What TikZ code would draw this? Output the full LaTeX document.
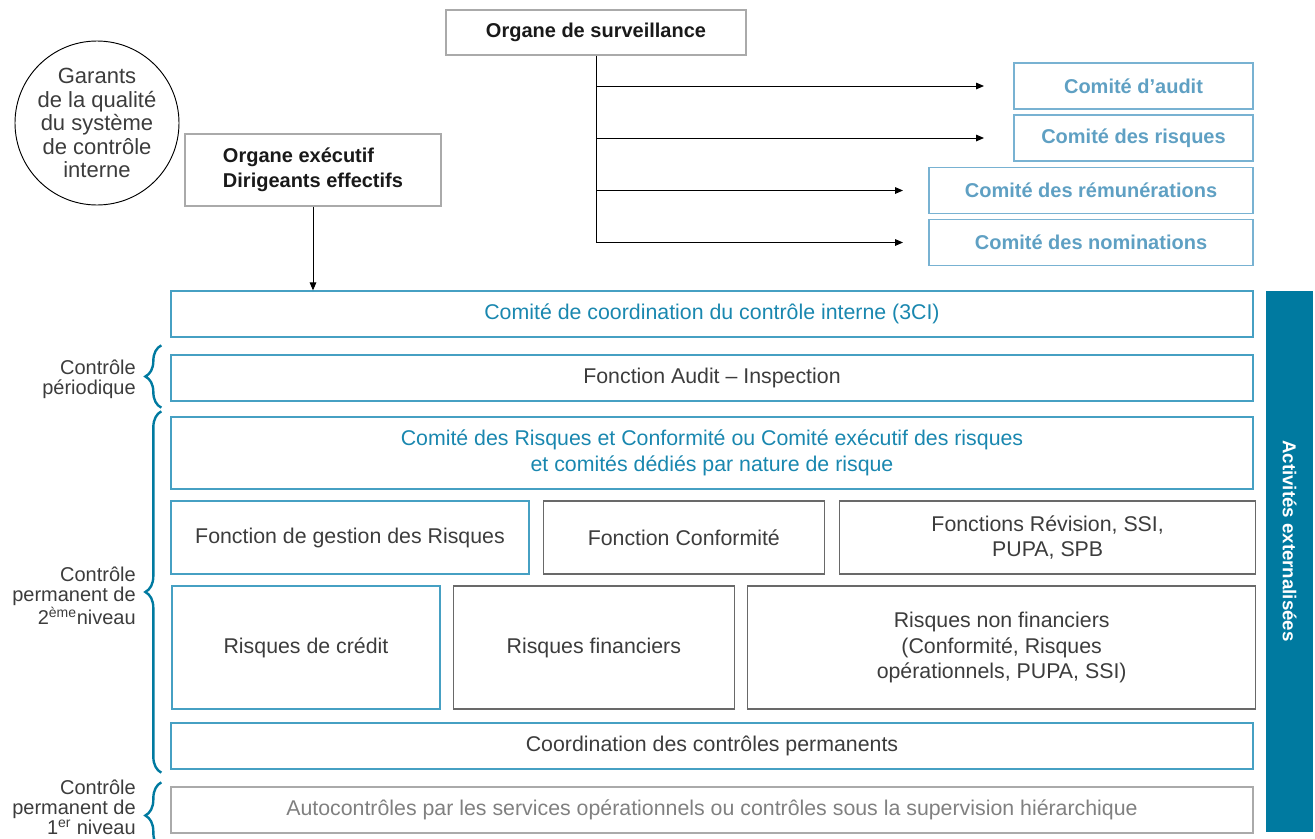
\documentclass[tikz,border=0pt]{standalone}
\usepackage{fontspec}
\setmainfont{Liberation Sans}
\usetikzlibrary{arrows.meta, positioning, decorations.pathreplacing}
\definecolor{petrol}{RGB}{0,122,160}
\definecolor{boxblue}{RGB}{70,160,195}
\definecolor{comblue}{RGB}{95,160,195}
\definecolor{comline}{RGB}{120,178,210}
\definecolor{txtgrey}{RGB}{60,60,60}
\definecolor{lineg}{RGB}{105,105,105}
\definecolor{lightg}{RGB}{170,170,170}
\definecolor{textblue}{RGB}{25,135,175}

\begin{document}
\begin{tikzpicture}[x=0.75pt, y=-0.75pt,
  every node/.style={font=\fontsize{16}{19}\selectfont, text=txtgrey, align=center, inner sep=0pt},
  head/.style   ={rectangle, draw=lightg, line width=1pt,
                  font=\fontsize{15}{19}\selectfont\bfseries, text=black!90},
  comite/.style ={rectangle, draw=comline, line width=1pt, minimum height=34.5pt,
                  font=\fontsize{15}{19}\selectfont\bfseries, text=comblue},
  layer/.style  ={rectangle, draw=boxblue, line width=1pt, minimum width=811.5pt, minimum height=34.5pt},
  greybox/.style={rectangle, draw=lineg, line width=1pt},
  bluebox/.style={rectangle, draw=boxblue, line width=1pt},
  link/.style   ={-{Triangle[length=6pt,width=5pt]}, line width=0.7pt, black},
  niveau/.style ={decorate, decoration={brace, amplitude=12pt}, line width=1.8pt, petrol},
  levellabel/.style={align=right, anchor=east, font=\fontsize{15}{15}\selectfont},
]
\clip (0,0) rectangle (1315,839);

% Governance (top)
\node[head, minimum width=225pt, minimum height=33.75pt] (surv) at (596,32.5) {Organe de surveillance};
\node[head, minimum width=192pt, minimum height=54pt, align=left] (exec) at (313,170)
  {Organe exécutif\\Dirigeants effectifs};
\node[circle, draw, line width=0.7pt, minimum size=123pt, font=\fontsize{16.5}{17.6}\selectfont]
  (garants) at (97,123) {Garants\\de la qualité\\du système\\de contrôle\\interne};

% Committees
\node[comite, minimum width=179.25pt] (caudit) at (1133.5,86)  {Comité d’audit};
\node[comite, minimum width=179.25pt] (crisk)  at (1133.5,138) {Comité des risques};
\node[comite, minimum width=243pt]    (cremu)  at (1091,190.5) {Comité des rémunérations};
\node[comite, minimum width=243pt]    (cnomi)  at (1091,242.5) {Comité des nominations};

\draw[link, shorten >=19pt] (surv.south) |- (cnomi.west);
\draw[link, shorten >=19pt] (surv.south |- cremu.west) -- (cremu.west);
\draw[link, shorten >=22pt] (surv.south |- crisk.west) -- (crisk.west);
\draw[link, shorten >=22pt] (surv.south |- caudit.west) -- (caudit.west);

% Layers of internal control
\node[layer, text=textblue] (cci) at (712,314) {Comité de coordination du contrôle interne (3CI)};
\node[layer] (inspect) at (712,378) {Fonction Audit – Inspection};
\node[layer, minimum height=54pt, text=textblue, font=\fontsize{16}{19.5}\selectfont] (crc) at (712,453)
  {Comité des Risques et Conformité ou Comité exécutif des risques\\et comités dédiés par nature de risque};

\draw[link] (exec.south) -- (exec.south |- cci.north);

% Functions
\node[bluebox, minimum width=268.5pt, minimum height=54.75pt] (gestion) at (350,537.5) {Fonction de gestion des Risques};
\node[greybox, minimum width=210.75pt, minimum height=54.75pt, right=9.75pt of gestion] (conform) {Fonction Conformité};
\node[greybox, minimum width=312pt, minimum height=54.75pt, right=10.5pt of conform] (revis)
  {Fonctions Révision, SSI,\\PUPA, SPB};

% Risk families
\node[bluebox, minimum width=201pt, minimum height=92.25pt] (credit) at (306,647.5) {Risques de crédit};
\node[greybox, minimum width=210.75pt, minimum height=92.25pt, right=9pt of credit] (financ) {Risques financiers};
\node[greybox, minimum width=381pt, minimum height=92.25pt, right=9pt of financ] (nonfin)
  {Risques non financiers\\(Conformité, Risques\\opérationnels, PUPA, SSI)};

\node[layer] (coord) at (712,746) {Coordination des contrôles permanents};
\node[layer, draw=lightg, text=black!50] (autoc) at (712,810)
  {Autocontrôles par les services opérationnels ou contrôles sous la supervision hiérarchique};

% Side bar
\node[rectangle, fill=petrol, minimum width=35.25pt, minimum height=405.75pt] (sidebar) at (1289.5,561.5) {};
\node[rotate=-90, text=white, font=\fontsize{14}{16}\selectfont\bfseries] (extern) at (1289.5,541)
  {Activités externalisées};

% Braces and level labels
\draw[niveau] ([shift={(-9,6)}]inspect.south west) -- ([shift={(-9,-9)}]inspect.north west);
\draw[niveau] ([shift={(-9,3)}]coord.south west) -- ([shift={(-9,-5)}]crc.north west);
\draw[niveau] ([shift={(-9,15)}]autoc.south west) -- ([shift={(-9,-4)}]autoc.north west);

\node[levellabel] (periodique) at (136,379) {Contrôle\\périodique};
\node[levellabel] (second) at (136,596) {Contrôle\\permanent de\\2\textsuperscript{ème}niveau};
\node[levellabel] (premier) at (136,807) {Contrôle\\permanent de\\1\textsuperscript{er} niveau};

\end{tikzpicture}
\end{document}
